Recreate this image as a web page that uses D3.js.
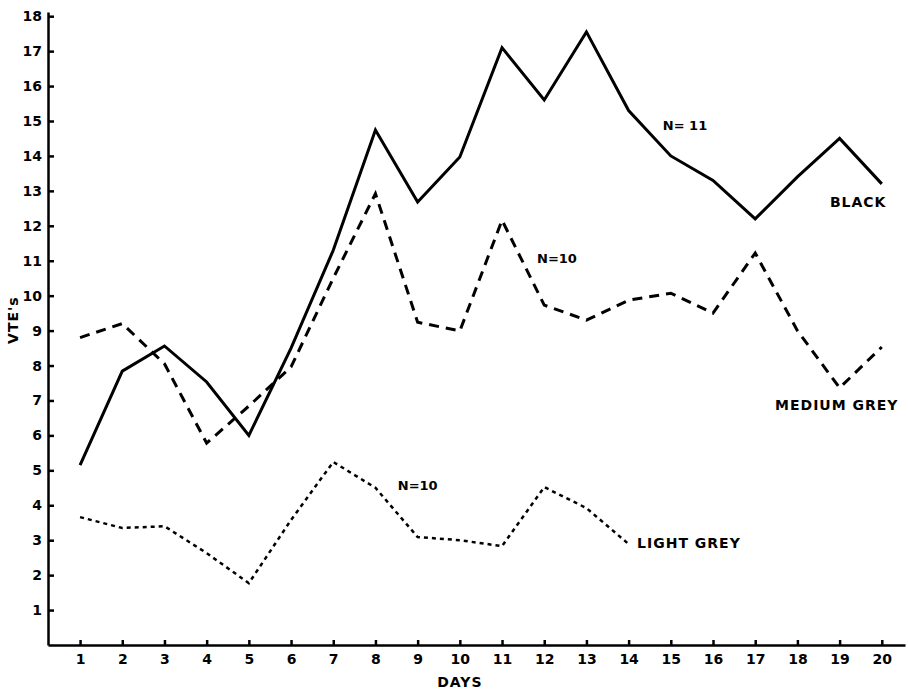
<!DOCTYPE html>
<html>
<head>
  <meta charset="utf-8">
  <style>
    body { margin: 0; background: #fff; }
    svg { display: block; }
    .axis text { font-family: "DejaVu Sans", sans-serif; font-weight: bold; font-size: 14px; fill: #000; }
    .axis path, .axis line { stroke: #000; stroke-width: 2.5px; }
    .lbl { font-family: "DejaVu Sans", sans-serif; font-weight: bold; font-size: 14px; letter-spacing: 1px; fill: #000; }
    .nlbl { font-family: "DejaVu Sans", sans-serif; font-weight: 600; font-size: 13px; fill: #000; }
  </style>
</head>
<body>
<svg width="908" height="689"></svg>
<script src="https://cdnjs.cloudflare.com/ajax/libs/d3/7.8.5/d3.min.js"></script>
<script>
var days = d3.range(1, 21);
var yTicks = d3.range(1, 19);

// VTE's per day
var black = [5.15, 7.84, 8.56, 7.53, 6.0, 8.5, 11.3, 14.74, 12.68, 13.97, 17.1, 15.6, 17.55, 15.3, 14.0, 13.3, 12.2, 13.4, 14.5, 13.2];
var mediumGrey = [8.8, 9.2, 8.05, 5.78, 6.84, 7.96, 10.5, 12.92, 9.24, 8.99, 12.16, 9.73, 9.3, 9.87, 10.07, 9.5, 11.22, 9.0, 7.36, 8.53];
var lightGrey = [3.66, 3.35, 3.4, 2.63, 1.77, 3.58, 5.24, 4.5, 3.09, 3.0, 2.83, 4.52, 3.92, 2.89];

var svg = d3.select("svg");

var x = d3.scaleLinear().domain([0.24, 20.55]).range([48, 905]);
var y = d3.scaleLinear().domain([0, 18.12]).range([645, 12]);

var xAxis = svg.append("g")
    .attr("class", "axis")
    .attr("transform", "translate(0," + y(0) + ")")
    .call(d3.axisBottom(x).tickValues(days).tickSizeInner(-5).tickSizeOuter(0).tickPadding(9));
xAxis.selectAll("line").attr("stroke-width", 1.5);

var yAxis = svg.append("g")
    .attr("class", "axis")
    .attr("transform", "translate(" + x.range()[0] + ",0)")
    .call(d3.axisLeft(y).tickValues(yTicks).tickSizeInner(-6).tickSizeOuter(0).tickPadding(6));
yAxis.selectAll("line").attr("stroke-width", 1.5);

svg.append("text")
    .attr("class", "lbl")
    .attr("text-anchor", "middle")
    .attr("x", x(10))
    .attr("y", 687)
    .text("DAYS");

svg.append("text")
    .attr("class", "lbl")
    .attr("text-anchor", "middle")
    .attr("transform", "translate(18," + y(9.3) + ")rotate(-90)")
    .text("VTE's");

var line = d3.line()
    .x(function(d, i) { return x(days[i]); })
    .y(function(d) { return y(d); });

svg.append("path")
    .datum(black)
    .attr("fill", "none")
    .attr("stroke", "#000")
    .attr("stroke-width", 3)
    .attr("stroke-linejoin", "miter")
    .attr("d", line);

svg.append("path")
    .datum(mediumGrey)
    .attr("fill", "none")
    .attr("stroke", "#000")
    .attr("stroke-width", 3)
    .attr("stroke-dasharray", "10,7")
    .attr("d", line);

svg.append("path")
    .datum(lightGrey)
    .attr("fill", "none")
    .attr("stroke", "#000")
    .attr("stroke-width", 2.5)
    .attr("stroke-dasharray", "4,4")
    .attr("d", line);

// series labels
svg.append("text").attr("class", "nlbl").attr("x", x(14.81)).attr("y", y(14.75)).text("N= 11");
svg.append("text").attr("class", "lbl").attr("x", x(18.77)).attr("y", y(12.54)).text("BLACK");
svg.append("text").attr("class", "nlbl").attr("x", x(11.83)).attr("y", y(10.93)).text("N=10");
svg.append("text").attr("class", "lbl").attr("x", x(17.47)).attr("y", y(6.73)).text("MEDIUM GREY");
svg.append("text").attr("class", "nlbl").attr("x", x(8.53)).attr("y", y(4.44)).text("N=10");
svg.append("text").attr("class", "lbl").attr("x", x(14.2)).attr("y", y(2.77)).text("LIGHT GREY");
</script>
</body>
</html>
